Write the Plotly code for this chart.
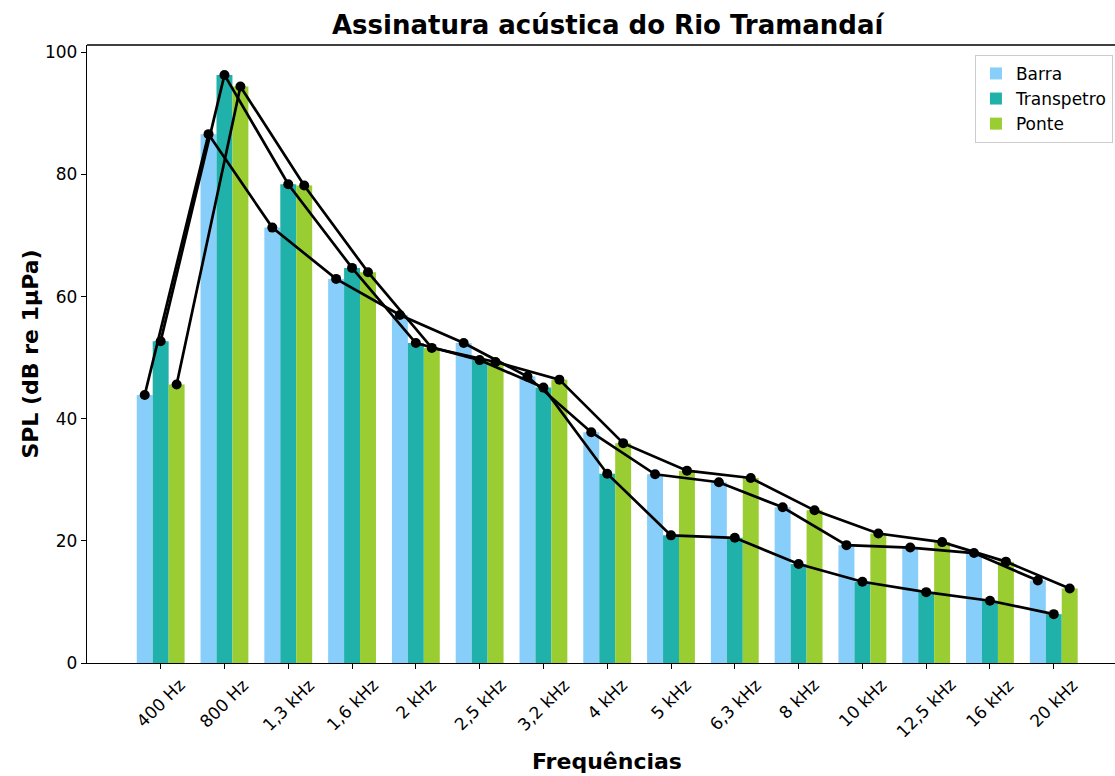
import plotly.graph_objects as go
import numpy as np

freqs = ["400 Hz", "800 Hz", "1,3 kHz", "1,6 kHz", "2 kHz", "2,5 kHz", "3,2 kHz", "4 kHz",
         "5 kHz", "6,3 kHz", "8 kHz", "10 kHz", "12,5 kHz", "16 kHz", "20 kHz"]
barra = [43.9, 86.6, 71.3, 62.9, 57.0, 52.4, 46.9, 37.8, 30.9, 29.6, 25.5, 19.3, 18.9, 18.0, 13.5]
transpetro = [52.7, 96.3, 78.4, 64.7, 52.4, 49.6, 45.1, 31.0, 20.9, 20.5, 16.2, 13.3, 11.6, 10.2, 8.0]
ponte = [45.6, 94.4, 78.2, 64.0, 51.6, 49.3, 46.4, 36.0, 31.5, 30.3, 25.0, 21.2, 19.8, 16.6, 12.2]

series = [("Barra", barra, "#87CEFA", -0.25),
          ("Transpetro", transpetro, "#20B2AA", 0.0),
          ("Ponte", ponte, "#9ACD32", 0.25)]
bar_w = 0.25
font_family = "DejaVu Sans"

idx = np.arange(len(freqs))
fig = go.Figure()

for name, vals, color, off in series:
    fig.add_trace(go.Bar(x=idx + off, y=vals, width=bar_w, name=name,
                         marker=dict(color=color, line_width=0)))

for name, vals, color, off in series:
    fig.add_trace(go.Scatter(x=idx + off, y=vals, mode='lines+markers', name=name,
                             line=dict(color='black', width=2.7),
                             marker=dict(color='black', size=10), showlegend=False))

# rotated tick labels centred under the ticks (matplotlib style)
for i, lab in enumerate(freqs):
    fig.add_annotation(x=i, xref='x', y=0, yref='paper', yshift=-9, text=lab,
                       textangle=-45, xanchor='center', yanchor='top', showarrow=False,
                       font=dict(size=17, color='black', family=font_family))

fig.add_annotation(x=7, xref='x', y=0, yref='paper', yshift=-98, text="<b>Frequências</b>",
                   xanchor='center', yanchor='middle', showarrow=False,
                   font=dict(size=22, color='black', family=font_family))

# top spine
fig.add_shape(type='line', xref='paper', yref='paper', x0=0, x1=1, y0=1, y1=1,
              line=dict(color='black', width=1.3))

fig.update_layout(
    width=1115, height=776,
    margin=dict(l=87, r=0, t=45, b=113),
    plot_bgcolor='white', paper_bgcolor='white',
    barmode='overlay',
    font=dict(family=font_family, color='black'),
    title=dict(text="<b>Assinatura acústica do Rio Tramandaí</b>", x=0.545, xanchor='center',
               y=0.968, yanchor='middle', xref='container', yref='container',
               font=dict(size=26, color='black')),
    legend=dict(x=0.998, xanchor='right', y=0.984, yanchor='top', bgcolor='white',
                bordercolor='#cccccc', borderwidth=1, font=dict(size=17), tracegroupgap=4),
    xaxis=dict(range=[-1.155, 14.96], tickvals=list(idx), showticklabels=False,
               ticks='outside', ticklen=5, tickwidth=1.3, tickcolor='black',
               showline=True, linecolor='black', linewidth=1.3, showgrid=False, zeroline=False),
    yaxis=dict(range=[0, 101.2], tickvals=[0, 20, 40, 60, 80, 100],
               ticks='outside', ticklen=5, tickwidth=1.3, tickcolor='black',
               tickfont=dict(size=17),
               showline=True, linecolor='black', linewidth=1.3, showgrid=False, zeroline=False,
               title=dict(text="<b>SPL (dB re 1μPa)</b>", font=dict(size=22), standoff=0)),
)

fig.write_html("out.html", config={"displayModeBar": False},
               post_script="document.body.style.margin='0';")
